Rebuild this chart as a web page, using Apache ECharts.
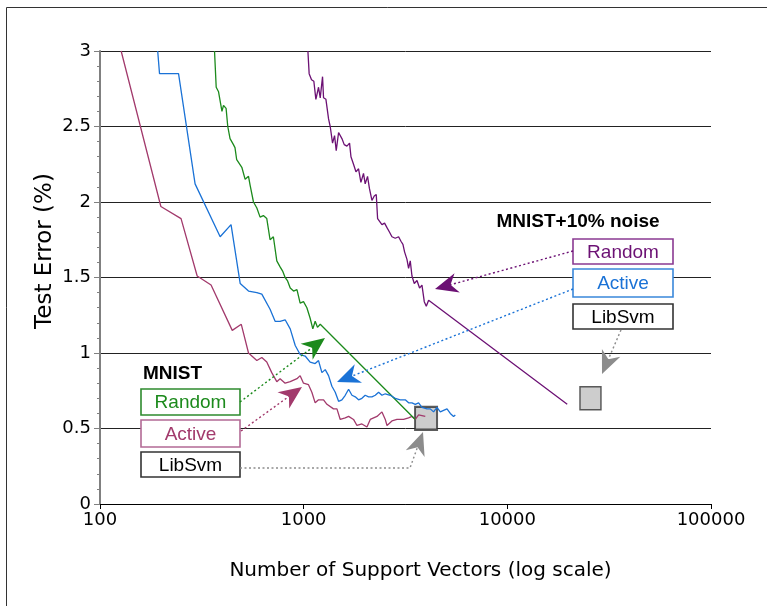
<!DOCTYPE html>
<html><head><meta charset="utf-8">
<script src="https://cdn.jsdelivr.net/npm/echarts@6/dist/echarts.min.js"></script>
<style>html,body{margin:0;padding:0;background:#fff}#c{width:767px;height:606px}</style>
</head><body><div id="c"></div>
<script>
// ---- data ----
const xTicks = [100, 1000, 10000, 100000];
const yTicks = [0, 0.5, 1, 1.5, 2, 2.5, 3];
const mnistActive = [[127,3.0],[199,1.97],[250,1.89],[300,1.51],[351,1.45],[446,1.15],[494,1.19],[536,1.00],[589,0.95],[623,0.97],[659,0.94],[697,0.87],[738,0.81],[766,0.83],[811,0.80],[859,0.81],[927,0.83],[961,0.85],[998,0.80],[1056,0.79],[1097,0.74],[1139,0.67],[1183,0.69],[1252,0.69],[1301,0.66],[1401,0.63],[1457,0.63],[1512,0.56],[1600,0.57],[1662,0.58],[1757,0.56],[1827,0.52],[1932,0.53],[2045,0.51],[2123,0.56],[2291,0.58],[2423,0.61],[2516,0.56],[2565,0.52],[2713,0.55],[2872,0.56],[3093,0.56],[3275,0.57],[3402,0.58],[3532,0.56],[3667,0.59],[3955,0.58]];
const mnistRandom = [[365,3.0],[372,2.76],[382,2.73],[397,2.60],[404,2.64],[416,2.62],[424,2.50],[435,2.42],[452,2.38],[460,2.36],[469,2.28],[479,2.27],[497,2.23],[516,2.15],[536,2.17],[546,2.11],[567,2.00],[589,1.96],[611,1.90],[634,1.91],[659,1.89],[684,1.75],[710,1.77],[738,1.61],[766,1.57],[790,1.54],[811,1.50],[832,1.48],[859,1.43],[892,1.41],[927,1.42],[961,1.33],[998,1.34],[1037,1.30],[1076,1.23],[1109,1.16],[1139,1.21],[1169,1.17],[1206,1.19],[3532,0.56]];
const noiseActive = [[192,3.0],[196,2.85],[243,2.85],[293,2.12],[389,1.77],[440,1.85],[488,1.46],[536,1.41],[589,1.40],[623,1.39],[684,1.29],[724,1.21],[766,1.21],[811,1.22],[859,1.16],[909,1.05],[961,0.99],[1017,0.98],[1076,0.94],[1139,0.93],[1183,0.95],[1229,0.87],[1276,0.89],[1325,0.85],[1376,0.78],[1429,0.74],[1484,0.68],[1541,0.69],[1600,0.72],[1662,0.76],[1726,0.72],[1792,0.71],[1860,0.69],[1932,0.70],[2005,0.72],[2083,0.71],[2164,0.71],[2247,0.72],[2333,0.74],[2423,0.72],[2516,0.73],[2661,0.72],[2816,0.70],[2980,0.69],[3154,0.69],[3275,0.67],[3402,0.67],[3532,0.66],[3667,0.67],[3809,0.64],[4032,0.63],[4184,0.63],[4343,0.61],[4515,0.64],[4686,0.61],[4864,0.62],[5056,0.63],[5247,0.60],[5446,0.58],[5553,0.59]];
const noiseRandom = [[1049,3.0],[1064,2.85],[1093,2.81],[1122,2.80],[1148,2.68],[1183,2.76],[1206,2.69],[1238,2.83],[1252,2.69],[1286,2.68],[1325,2.55],[1350,2.50],[1386,2.39],[1418,2.44],[1445,2.34],[1484,2.46],[1541,2.42],[1582,2.38],[1631,2.37],[1680,2.39],[1707,2.30],[1757,2.25],[1806,2.20],[1860,2.22],[1910,2.13],[1967,2.19],[2005,2.12],[2059,2.17],[2103,2.09],[2164,2.01],[2221,2.04],[2272,2.05],[2307,1.89],[2357,1.89],[2423,1.85],[2496,1.86],[2565,1.83],[2641,1.80],[2713,1.77],[2816,1.76],[2925,1.77],[3004,1.74],[3072,1.72],[3129,1.67],[3215,1.62],[3275,1.56],[3337,1.61],[3402,1.51],[3492,1.46],[3601,1.48],[3707,1.43],[3809,1.45],[3910,1.34],[4000,1.31],[4107,1.35],[19680,0.66]];
const mnistLibSvm = [[3990, 0.567]];
const noiseLibSvm = [[25600, 0.70]];
const xTitle = 'Number of Support Vectors (log scale)';
const yTitle = 'Test Error (%)';

// ---- styles ----
const COL = {maroon:'#a23a6c', green:'#1c8a1c', blue:'#1a72d6', purple:'#6c1174', gray:'#8c8c8c'};
const chart = echarts.init(document.getElementById('c'), null, {renderer:'canvas'});

function lineSeries(data, color){
  return {type:'line', data, showSymbol:false, symbol:'none', clip:true, z:3,
    lineStyle:{color, width:1.3}, itemStyle:{color}};
}
function arrowHead(tx,ty,fx,fy,color,L,W){
  L = L||23; W = W||10;
  const dx=tx-fx, dy=ty-fy, len=Math.hypot(dx,dy), ux=dx/len, uy=dy/len, nx=-uy, ny=ux;
  const bx=tx-L*ux, by=ty-L*uy, mx=tx-0.7*L*ux, my=ty-0.7*L*uy;
  return {type:'polygon', z:100, shape:{points:[[tx,ty],[bx+W*nx,by+W*ny],[mx,my],[bx-W*nx,by-W*ny]]}, style:{fill:color}};
}
function arrow(pts, color){
  const n = pts.length, tip = pts[n-1], prev = pts[n-2];
  const dx=tip[0]-prev[0], dy=tip[1]-prev[1], len=Math.hypot(dx,dy);
  const end = [tip[0]-dx/len*15, tip[1]-dy/len*15];
  const line = pts.slice(0,n-1).concat([end]);
  return [
    {type:'polyline', z:99, shape:{points:line}, style:{stroke:color, lineWidth:1.4, lineDash:[2,2.5], fill:null}},
    arrowHead(tip[0],tip[1],prev[0],prev[1],color)
  ];
}
function box(x,y,w,h,text,color,border){
  return [
    {type:'rect', z:99, shape:{x:x,y:y,width:w,height:h}, style:{fill:'#fff', stroke:border, lineWidth:1.6}},
    {type:'text', z:100, x:x+w/2, y:y+h/2+1, style:{text, fill:color, font:'19px "Liberation Sans", Arial, sans-serif', align:'center', verticalAlign:'middle'}}
  ];
}
const graphics = [].concat(
  [{type:'rect', z:1, shape:{x:6.5,y:7.5,width:900,height:900}, style:{fill:null, stroke:'#333', lineWidth:1}}],
  [{type:'text', z:100, x:45, y:251, rotation:Math.PI/2, style:{text:yTitle, fill:'#000', font:'23px "DejaVu Sans", sans-serif', align:'center', verticalAlign:'middle'}}],
  [{type:'text', z:100, x:143, y:374, style:{text:'MNIST', fill:'#000', font:'bold 19px "Liberation Sans", Arial, sans-serif', align:'left', verticalAlign:'middle'}}],
  box(141,389,99,26,'Random',COL.green,'#2e8b2e'),
  box(141,420,99,27,'Active',COL.maroon,'#b26a95'),
  box(141,452,99,25,'LibSvm','#000','#333'),
  [{type:'text', z:100, x:578, y:222, style:{text:'MNIST+10% noise', fill:'#000', font:'bold 19px "Liberation Sans", Arial, sans-serif', align:'center', verticalAlign:'middle'}}],
  box(573,239,100,25,'Random',COL.purple,'#8a3a92'),
  box(573,269,100,28,'Active',COL.blue,'#3a88da'),
  box(573,304,100,25,'LibSvm','#000','#333'),
  arrow([[240,402],[325,338]], COL.green),
  arrow([[241,431],[302,387]], COL.maroon),
  arrow([[240,468],[410,468],[423,432]], COL.gray),
  arrow([[573,251],[435,289]], COL.purple),
  arrow([[573,289],[337,382]], COL.blue),
  arrow([[621,330],[602,374]], COL.gray)
);

chart.setOption({
  animation:false,
  backgroundColor:'#fff',
  grid:{left:100, right:56, top:51, bottom:102, containLabel:false},
  xAxis:{type:'log', logBase:10, min:xTicks[0], max:xTicks[xTicks.length-1],
    name:xTitle, nameLocation:'middle', nameGap:57,
    nameTextStyle:{fontFamily:'DejaVu Sans', fontSize:20, color:'#000', padding:[0,0,0,30]},
    axisLine:{show:true, onZero:false, lineStyle:{color:'#000', width:1}},
    axisTick:{show:true, length:5, lineStyle:{color:'#000'}},
    minorTick:{show:false}, splitLine:{show:false},
    axisLabel:{fontFamily:'DejaVu Sans', fontSize:18, color:'#000', margin:7,
      formatter:v=>String(Math.round(v))}},
  yAxis:{type:'value', min:yTicks[0], max:yTicks[yTicks.length-1], interval:0.5,
    axisLine:{show:true, lineStyle:{color:'#808080', width:2}},
    axisTick:{show:true, length:6, lineStyle:{color:'#808080'}},
    minorTick:{show:true, splitNumber:5, length:3, lineStyle:{color:'#808080'}},
    splitLine:{show:true, lineStyle:{color:'#222', width:1}},
    axisLabel:{fontFamily:'DejaVu Sans', fontSize:18, color:'#000', margin:9,
      formatter:v=>String(v)}},
  series:[
    {type:'scatter', data:mnistLibSvm, symbol:'rect', symbolSize:[22,23], z:2,
      itemStyle:{color:'#c0c0c0', borderColor:'#333', borderWidth:2}},
    {type:'scatter', data:noiseLibSvm, symbol:'rect', symbolSize:[21,23], z:2,
      itemStyle:{color:'#c0c0c0', borderColor:'#333', borderWidth:1.5}},
    lineSeries(mnistActive, COL.maroon),
    lineSeries(mnistRandom, COL.green),
    lineSeries(noiseActive, COL.blue),
    lineSeries(noiseRandom, COL.purple)
  ],
  graphic:{elements:graphics}
});
</script></body></html>
